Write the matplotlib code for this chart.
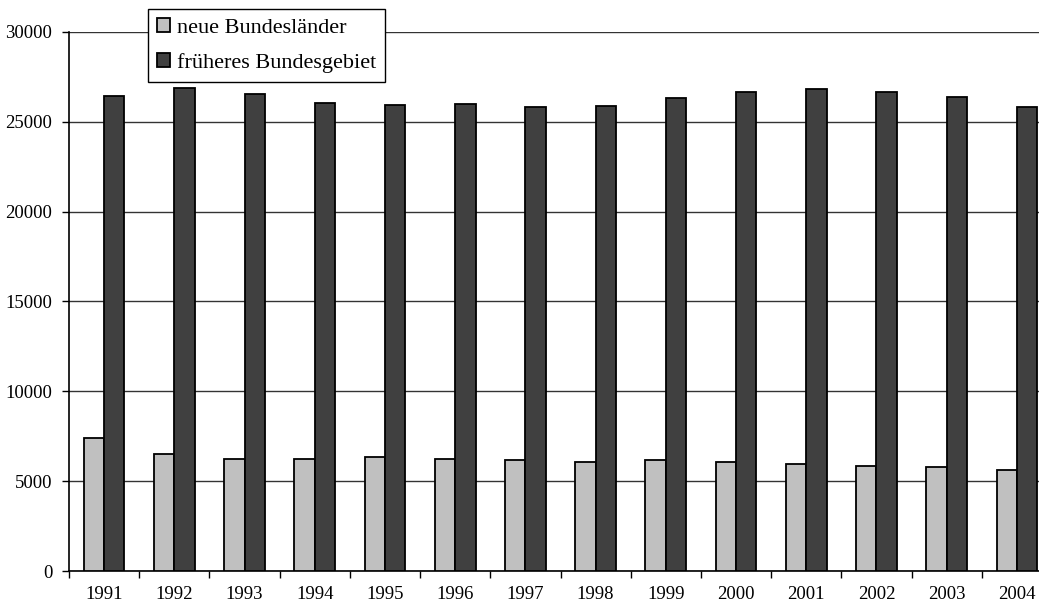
import matplotlib.pyplot as plt
import numpy as np

years = ["1991", "1992", "1993", "1994", "1995", "1996", "1997",
         "1998", "1999", "2000", "2001", "2002", "2003", "2004"]
neue = [7430, 6500, 6240, 6240, 6330, 6240, 6170,
        6070, 6170, 6070, 5960, 5870, 5800, 5610]
frueher = [26440, 26910, 26540, 26070, 25930, 25980, 25800,
           25890, 26350, 26660, 26850, 26660, 26400, 25840]

plt.rcParams['font.family'] = ['Liberation Serif', 'DejaVu Serif']

fig = plt.figure(figsize=(10.39, 6.06), dpi=100)
# axis runs a bit past the right edge, like the original (cropped)
ax = fig.add_axes([69 / 1039, 35 / 606, 983 / 1039, 539 / 606])

x = np.arange(len(years))
w = 0.29
ax.bar(x - w / 2, neue, w, color="#c0c0c0", edgecolor="black", linewidth=1.3,
       label="neue Bundesländer", zorder=3)
ax.bar(x + w / 2, frueher, w, color="#404040", edgecolor="black", linewidth=1.3,
       label="früheres Bundesgebiet", zorder=3)

ax.set_xlim(-0.5, len(years) - 0.5)
ax.set_ylim(0, 30000)
ax.set_yticks(np.arange(0, 30001, 5000))
ax.yaxis.grid(True, color="#333333", linewidth=1.0, zorder=0)

ax.set_xticks(x)
ax.set_xticklabels(years)
ax.set_xticks(np.arange(-0.5, len(years), 1), minor=True)
ax.tick_params(axis="x", which="major", length=0, pad=11, labelsize=13.5)
ax.tick_params(axis="x", which="minor", length=5, width=1, direction="out")
ax.tick_params(axis="y", length=5, width=1, direction="out", labelsize=13.5, pad=7)

for s in ["top", "right"]:
    ax.spines[s].set_visible(False)
ax.spines["left"].set_linewidth(1.2)
ax.spines["bottom"].set_linewidth(1.2)

leg = ax.legend(loc="upper left", bbox_to_anchor=(148 / 1039, 1 - 9 / 606),
                bbox_transform=fig.transFigure, fontsize=16, frameon=True,
                fancybox=False, framealpha=1, edgecolor="black",
                handlelength=0.6, handleheight=0.6, handletextpad=0.3,
                labelspacing=0.7, borderpad=0.4, borderaxespad=0)
leg.get_frame().set_linewidth(1.0)
leg.set_zorder(5)

fig.savefig("out.png", dpi=100)
